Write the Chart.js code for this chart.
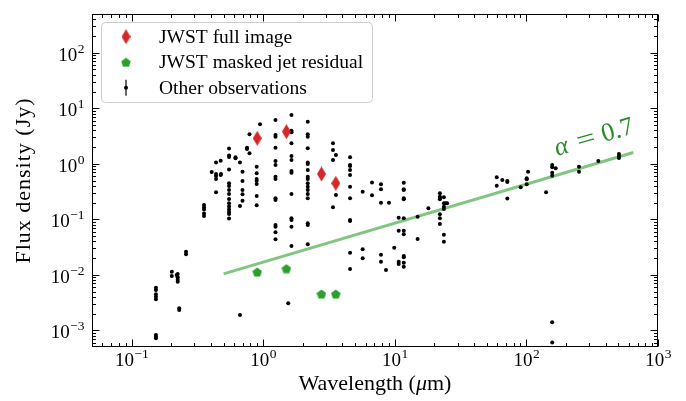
<!DOCTYPE html>
<html><head><meta charset="utf-8">
<script src="https://cdn.jsdelivr.net/npm/chart.js@4.4.1/dist/chart.umd.min.js"></script>
<style>html,body{margin:0;padding:0;background:#fff;}canvas{display:block;}</style>
</head><body>
<canvas id="c" width="686" height="401"></canvas>
<script>
// ---------- data ----------
const xTickExponents = [-1, 0, 1, 2, 3];
const yTickExponents = [-3, -2, -1, 0, 1, 2];
const seriesLabels = ['JWST full image', 'JWST masked jet residual', 'Other observations'];
const xTitle = 'Wavelength';
const yTitle = 'Flux density (Jy)';
const fitText = '0.7';

const jwstWavelength = [0.9, 1.5, 2.77, 3.56];
const jwstFullFlux = [2.88, 3.79, 0.655, 0.445];
const jwstJetFlux = [0.0112, 0.0129, 0.0045, 0.0045];

const fitWavelength = [0.5, 650];
const fitFlux = [0.0104, 1.6];

const bandWavelength = [0.153, 0.202, 0.220, 0.224, 0.230, 0.259, 0.355, 0.406, 0.438, 0.475,
  0.478, 0.55, 0.616, 0.666, 0.696, 0.753, 0.787, 0.892, 0.946, 1.24,
  1.55, 1.64, 2.18, 3.39, 3.57, 4.57, 5.70, 6.71, 7.85, 8.57,
  9.03, 9.9, 10.7, 11.7, 14.9, 18.0, 22.0, 23.6, 24.4, 25.0,
  59.5, 65.6, 71.6, 90.5, 100.5, 103, 141, 157, 167, 251,
  352, 505];
const bandFlux = [
  [0.00586, 0.00532, 0.00445, 0.00403, 0.00362, 0.000823, 0.000767, 0.000718],
  [0.0114, 0.0095],
  [0.0099],
  [0.0103, 0.0090, 0.0081, 0.0075],
  [0.00249, 0.00232],
  [0.0261, 0.0234],
  [0.181, 0.164, 0.150, 0.127, 0.115],
  [0.71],
  [1.06, 0.655, 0.603, 0.532, 0.306],
  [1.14, 0.628],
  [0.655],
  [1.88, 1.41, 1.33, 0.79, 0.445, 0.40, 0.337, 0.286, 0.232, 0.194, 0.170, 0.150, 0.135, 0.125, 0.103],
  [1.31, 1.26],
  [1.05, 0.174, 0.00189],
  [0.72, 0.49, 0.337, 0.282, 0.216],
  [1.95, 1.85],
  [3.40, 1.55],
  [0.886, 0.674, 0.532, 0.49, 0.433, 0.263, 0.179],
  [5.15],
  [6.15, 3.30, 3.08, 1.95, 1.12, 0.95, 0.585, 0.532, 0.239, 0.223, 0.0789, 0.0736, 0.0583, 0.0436],
  [0.00306],
  [7.57, 3.95, 3.69, 2.34, 1.38, 1.17, 0.742, 0.69, 0.286, 0.104, 0.097, 0.0736, 0.033],
  [5.73, 3.40, 3.08, 1.90, 1.06, 0.99, 0.773, 0.585, 0.532, 0.445, 0.387, 0.337, 0.286, 0.239, 0.0847, 0.0789, 0.0354],
  [2.34, 1.77, 1.17, 0.164],
  [1.44, 0.274],
  [1.31, 0.95, 0.91, 0.773, 0.628, 0.387, 0.239, 0.097, 0.093, 0.025, 0.0127],
  [0.314, 0.0288, 0.0198],
  [0.46, 0.27],
  [0.427, 0.347, 0.199, 0.023, 0.0172],
  [0.0122],
  [0.199],
  [0.0308],
  [0.107, 0.0623, 0.0172, 0.0157],
  [0.456, 0.347, 0.337, 0.239, 0.229, 0.104, 0.0623, 0.0537, 0.0218, 0.0207, 0.0165, 0.014],
  [0.111, 0.0442],
  [0.158],
  [0.294, 0.255, 0.245, 0.229, 0.123, 0.104, 0.0823],
  [0.249, 0.194, 0.169, 0.153, 0.0528, 0.0395],
  [0.194],
  [0.194],
  [0.571, 0.403],
  [0.51],
  [0.49, 0.47, 0.237],
  [0.377],
  [0.55, 0.526, 0.427],
  [0.72],
  [0.306],
  [0.95, 0.865, 0.69, 0.61, 0.0014, 0.0006],
  [0.83],
  [0.886, 0.72],
  [1.12],
  [1.50, 1.38, 1.27]
];

// ---------- styling helpers ----------
const SERIF = '"Liberation Serif", "DejaVu Serif", serif';
const RED = '#d62728', GREEN = '#2ca02c';

function makeDiamond(w, h, color) {
  const c = document.createElement('canvas');
  c.width = w; c.height = h;
  const g = c.getContext('2d');
  g.fillStyle = color;
  g.beginPath();
  g.moveTo(w / 2, 0); g.lineTo(w, h / 2); g.lineTo(w / 2, h); g.lineTo(0, h / 2);
  g.closePath(); g.fill();
  return c;
}
function makePentagon(size, color) {
  const c = document.createElement('canvas');
  c.width = size; c.height = size;
  const g = c.getContext('2d');
  const r = size / 2, cx = size / 2, cy = size / 2 + size * 0.05;
  g.fillStyle = color;
  g.beginPath();
  for (let k = 0; k < 5; k++) {
    const a = -Math.PI / 2 + k * 2 * Math.PI / 5;
    const px = cx + r * Math.cos(a), py = cy + r * Math.sin(a);
    k ? g.lineTo(px, py) : g.moveTo(px, py);
  }
  g.closePath(); g.fill();
  return c;
}
const diamondImg = makeDiamond(9, 15, RED);
const pentagonImg = makePentagon(10, GREEN);

const otherPoints = [];
bandWavelength.forEach((w, i) => bandFlux[i].forEach(f => otherPoints.push({x: w, y: f})));

// ---------- plugin: matplotlib-like frame, ticks, labels, legend, annotation ----------
const mplPlugin = {
  id: 'mpl',
  afterDraw(chart) {
    const {ctx, chartArea: a, scales: {x, y}} = chart;
    ctx.save();
    const L = Math.round(a.left) + 0.5, R = Math.round(a.right) - 0.5;
    const T = Math.round(a.top) + 0.5, B = Math.round(a.bottom) - 0.5;
    ctx.strokeStyle = '#000'; ctx.lineWidth = 1;
    ctx.strokeRect(L, T, R - L, B - T);

    const MAJ = 7, MIN = 3.5;
    ctx.beginPath();
    for (let d = -2; d <= 3; d++) {
      for (let m = 1; m <= 9; m++) {
        const v = m * Math.pow(10, d);
        if (v < x.min * 1.0001 || v > x.max * 0.9999) {
          if (!(m === 1 && Math.abs(v - x.max) < 1e-9)) continue;
        }
        const px = Math.round(x.getPixelForValue(v)) + 0.5;
        const len = m === 1 ? MAJ : MIN;
        ctx.moveTo(px, B); ctx.lineTo(px, B - len);
        ctx.moveTo(px, T); ctx.lineTo(px, T + len);
      }
    }
    for (let d = -4; d <= 2; d++) {
      for (let m = 1; m <= 9; m++) {
        const v = m * Math.pow(10, d);
        if (v < y.min * 1.0001 || v > y.max * 0.9999) continue;
        const py = Math.round(y.getPixelForValue(v)) + 0.5;
        const len = m === 1 ? MAJ : MIN;
        ctx.moveTo(L, py); ctx.lineTo(L + len, py);
        ctx.moveTo(R, py); ctx.lineTo(R - len, py);
      }
    }
    ctx.stroke();

    // tick labels
    ctx.fillStyle = '#000';
    ctx.textBaseline = 'alphabetic';
    const baseFont = '19px ' + SERIF, expFont = '13.5px ' + SERIF;
    function power(e) { return e < 0 ? '\u2212' + (-e) : String(e); }
    xTickExponents.forEach(e => {
      const px = x.getPixelForValue(Math.pow(10, e));
      ctx.font = baseFont; const w1 = ctx.measureText('10').width;
      ctx.font = expFont; const w2 = ctx.measureText(power(e)).width;
      const x0 = px - (w1 + w2) / 2;
      ctx.textAlign = 'left';
      ctx.font = baseFont; ctx.fillText('10', x0, B + 19);
      ctx.font = expFont; ctx.fillText(power(e), x0 + w1 + 0.5, B + 11);
    });
    yTickExponents.forEach(e => {
      const py = y.getPixelForValue(Math.pow(10, e));
      ctx.font = expFont; const w2 = ctx.measureText(power(e)).width;
      const xr = L - 8;
      ctx.textAlign = 'left';
      ctx.font = baseFont; const w1 = ctx.measureText('10').width;
      ctx.fillText('10', xr - w2 - w1 - 0.5, py + 8);
      ctx.font = expFont; ctx.fillText(power(e), xr - w2, py);
    });

    // axis titles
    ctx.font = '22px ' + SERIF;
    const t1 = xTitle + ' (', t2 = '\u03bc', t3 = 'm)';
    const w1 = ctx.measureText(t1).width;
    ctx.font = 'italic 22px ' + SERIF; const w2 = ctx.measureText(t2).width;
    ctx.font = '22px ' + SERIF; const w3 = ctx.measureText(t3).width;
    let xs = (a.left + a.right) / 2 - (w1 + w2 + w3) / 2;
    const by = 390;
    ctx.textAlign = 'left';
    ctx.fillText(t1, xs, by);
    ctx.font = 'italic 22px ' + SERIF; ctx.fillText(t2, xs + w1, by);
    ctx.font = '22px ' + SERIF; ctx.fillText(t3, xs + w1 + w2, by);

    ctx.save();
    ctx.translate(30, (a.top + a.bottom) / 2);
    ctx.rotate(-Math.PI / 2);
    ctx.textAlign = 'center';
    ctx.font = '22px ' + SERIF;
    try { ctx.letterSpacing = '1px'; } catch (err) {}
    ctx.fillText(yTitle, 0, 0);
    try { ctx.letterSpacing = '0px'; } catch (err) {}
    ctx.restore();

    // fit annotation, rotated along the fit line
    const ax = x.getPixelForValue(fitWavelength[0]), ay = y.getPixelForValue(fitFlux[0]);
    const bx = x.getPixelForValue(fitWavelength[1]), by2 = y.getPixelForValue(fitFlux[1]);
    const ang = Math.atan2(by2 - ay, bx - ax);
    ctx.save();
    ctx.translate(x.getPixelForValue(171), y.getPixelForValue(1.38));
    ctx.rotate(ang);
    ctx.fillStyle = '#2a8a2a';
    ctx.textAlign = 'left';
    ctx.font = 'italic 26px ' + SERIF;
    ctx.fillText('\u03b1', 0, 0);
    ctx.font = '26px ' + SERIF;
    ctx.save(); ctx.translate(23, 0); ctx.scale(1.3, 1); ctx.fillText('=', 0, 0); ctx.restore();
    ctx.fillText(fitText, 49, 0);
    ctx.restore();

    // legend
    const lx = 101.5, ly = 22.5, lw = 271, lh = 80, rr = 4;
    ctx.beginPath();
    ctx.moveTo(lx + rr, ly); ctx.lineTo(lx + lw - rr, ly); ctx.arcTo(lx + lw, ly, lx + lw, ly + rr, rr);
    ctx.lineTo(lx + lw, ly + lh - rr); ctx.arcTo(lx + lw, ly + lh, lx + lw - rr, ly + lh, rr);
    ctx.lineTo(lx + rr, ly + lh); ctx.arcTo(lx, ly + lh, lx, ly + lh - rr, rr);
    ctx.lineTo(lx, ly + rr); ctx.arcTo(lx, ly, lx + rr, ly, rr);
    ctx.closePath();
    ctx.fillStyle = 'rgba(255,255,255,0.8)'; ctx.fill();
    ctx.strokeStyle = '#cccccc'; ctx.lineWidth = 1; ctx.stroke();

    const rows = [36.7, 62.3, 87.7], mx = 126, tx = 159;
    ctx.drawImage(diamondImg, mx - diamondImg.width / 2, rows[0] - diamondImg.height / 2);
    ctx.drawImage(pentagonImg, mx - pentagonImg.width / 2, rows[1] - pentagonImg.height / 2);
    ctx.strokeStyle = '#000'; ctx.lineWidth = 1.2;
    ctx.beginPath(); ctx.moveTo(mx, rows[2] - 8); ctx.lineTo(mx, rows[2] + 8); ctx.stroke();
    ctx.fillStyle = '#000';
    ctx.beginPath(); ctx.arc(mx, rows[2], 2, 0, 2 * Math.PI); ctx.fill();
    ctx.font = '19.5px ' + SERIF; ctx.fillStyle = '#000'; ctx.textAlign = 'left';
    seriesLabels.forEach((s, i) => ctx.fillText(s, tx, rows[i] + 6));
    ctx.restore();
  }
};

new Chart(document.getElementById('c'), {
  type: 'scatter',
  data: {
    datasets: [
      {label: seriesLabels[0], data: jwstWavelength.map((w, i) => ({x: w, y: jwstFullFlux[i]})),
       pointStyle: diamondImg, pointRadius: 7, order: 0},
      {label: seriesLabels[1], data: jwstWavelength.map((w, i) => ({x: w, y: jwstJetFlux[i]})),
       pointStyle: pentagonImg, pointRadius: 5, order: 1},
      {label: seriesLabels[2], data: otherPoints, pointStyle: 'circle', pointRadius: 2,
       backgroundColor: '#000', borderWidth: 0, order: 2},
      {label: 'fit', data: fitWavelength.map((w, i) => ({x: w, y: fitFlux[i]})), showLine: true,
       borderColor: 'rgba(44,160,44,0.6)', borderWidth: 3, pointRadius: 0, order: 3}
    ]
  },
  options: {
    responsive: false, animation: false, devicePixelRatio: 1, events: [],
    layout: {padding: {left: 92, right: 28, top: 14, bottom: 54}},
    plugins: {legend: {display: false}, tooltip: {enabled: false}, title: {display: false}},
    scales: {
      x: {type: 'logarithmic', min: 0.05, max: 1000, display: false},
      y: {type: 'logarithmic', min: 0.0005, max: 500, display: false}
    }
  },
  plugins: [mplPlugin]
});
</script>
</body></html>
